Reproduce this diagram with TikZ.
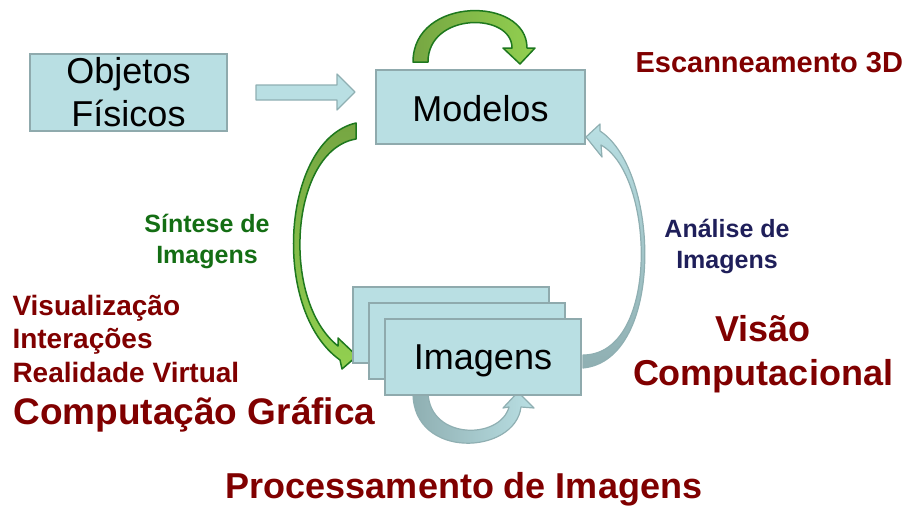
\documentclass[tikz,border=0pt]{standalone}
\usepackage{fontspec}
\setmainfont{Liberation Sans}
\usetikzlibrary{positioning}

\definecolor{boxfill}{RGB}{185,223,227}
\definecolor{boxline}{RGB}{143,170,173}
\definecolor{darkred}{RGB}{128,0,0}
\definecolor{textgreen}{RGB}{20,110,20}
\definecolor{textnavy}{RGB}{31,31,90}
\definecolor{greendark}{RGB}{118,166,66}
\definecolor{greenlight}{RGB}{146,208,80}
\definecolor{greenline}{RGB}{30,120,30}
\definecolor{bluedark}{RGB}{143,175,178}

\tikzset{
  caixa/.style={draw=boxline, fill=boxfill, line width=1.5, inner sep=0,
    font=\fontsize{36}{43}\selectfont, align=center},
  setaverde/.style={draw=greenline, line width=1.5, line join=round},
  setaazul/.style={draw=bluedark, line width=1.2, line join=round},
  rotulo/.style={font=\bfseries\fontsize{25}{31}\selectfont, align=center},
  titulo/.style={font=\bfseries\fontsize{36}{44}\selectfont, color=darkred, align=center}
}

\begin{document}
\begin{tikzpicture}[x=1pt, y=-1pt]
    \useasboundingbox (0,0) rectangle (907,507);

    % loop above Modelos
    \shade[setaverde, left color=greendark, right color=greenlight]
      (413,62) .. controls (413,-4) and (527,-4) .. (527,48) -- (535,48) -- (520,64)
      -- (503,48) -- (512,48) .. controls (512,12) and (428,12) .. (428,62) -- cycle;

    % Modelos -> Imagens
    \shade[setaverde, top color=greendark, bottom color=greenlight]
      (356,123) .. controls (282,140) and (270,310) .. (340,360) -- (342,369) -- (357,356)
      -- (338,338) -- (338,346) .. controls (280,300) and (290,150) .. (356,139) -- cycle;

    % Imagens -> Modelos
    \shade[setaazul, top color=boxfill, bottom color=bluedark]
      (583,368) .. controls (665,360) and (660,170) .. (600,131) -- (600,124) -- (586,137)
      -- (602,157) -- (601,145) .. controls (655,175) and (660,355) .. (583,355) -- cycle;

    % loop below Imagens
    \shade[setaazul, left color=bluedark, right color=boxfill]
      (413,393) .. controls (413,460) and (515,455) .. (521,407) -- (534,408) -- (518,392)
      -- (503,408) -- (509,407) .. controls (500,440) and (430,440) .. (428,393) -- cycle;

    % boxes
    \node[caixa, minimum width=197, minimum height=77] (objetos) at (128.5,92.5) {Objetos\\Físicos};
    \node[caixa, minimum width=209, minimum height=74] (modelos) at (480.5,107) {\raisebox{-2pt}[\height][\depth]{Modelos}};
    \node[caixa, minimum width=196, minimum height=76] (img1) at (451,325) {};
    \node[caixa, minimum width=196, minimum height=76] (img2) at (467,341) {};
    \node[caixa, minimum width=196, minimum height=76] (imagens) at (483,357) {\raisebox{-4pt}[\height][\depth]{Imagens}};

    % Objetos -> Modelos
    \draw[setaazul, fill=boxfill] (256,85) -- (337,85) -- (337,74) -- (355,92) -- (337,110)
      -- (337,100) -- (256,100) -- cycle;

    % labels
    \node[rotulo, color=darkred, anchor=base west, font=\bfseries\fontsize{29}{33}\selectfont] (escan) at (632,72) {Escanneamento 3D};
    \node[rotulo, color=textgreen, anchor=base] (sintese) at (207,263) {Síntese de\\Imagens};
    \node[rotulo, color=textnavy, anchor=base] (analise) at (727,268) {Análise de\\Imagens};
    \node[rotulo, color=darkred, anchor=base west, align=left, font=\bfseries\fontsize{28}{33.5}\selectfont] (visual) at (9,382) {Visualização\\Interações\\Realidade Virtual};
    \node[titulo, anchor=base west, font=\bfseries\fontsize{37}{40}\selectfont] (cg) at (10,424) {Computação Gráfica};
    \node[titulo, anchor=base] (visao) at (763,385) {Visão\\Computacional};
    \node[titulo, anchor=base] (pdi) at (464,498) {Processamento de Imagens};
\end{tikzpicture}
\end{document}
